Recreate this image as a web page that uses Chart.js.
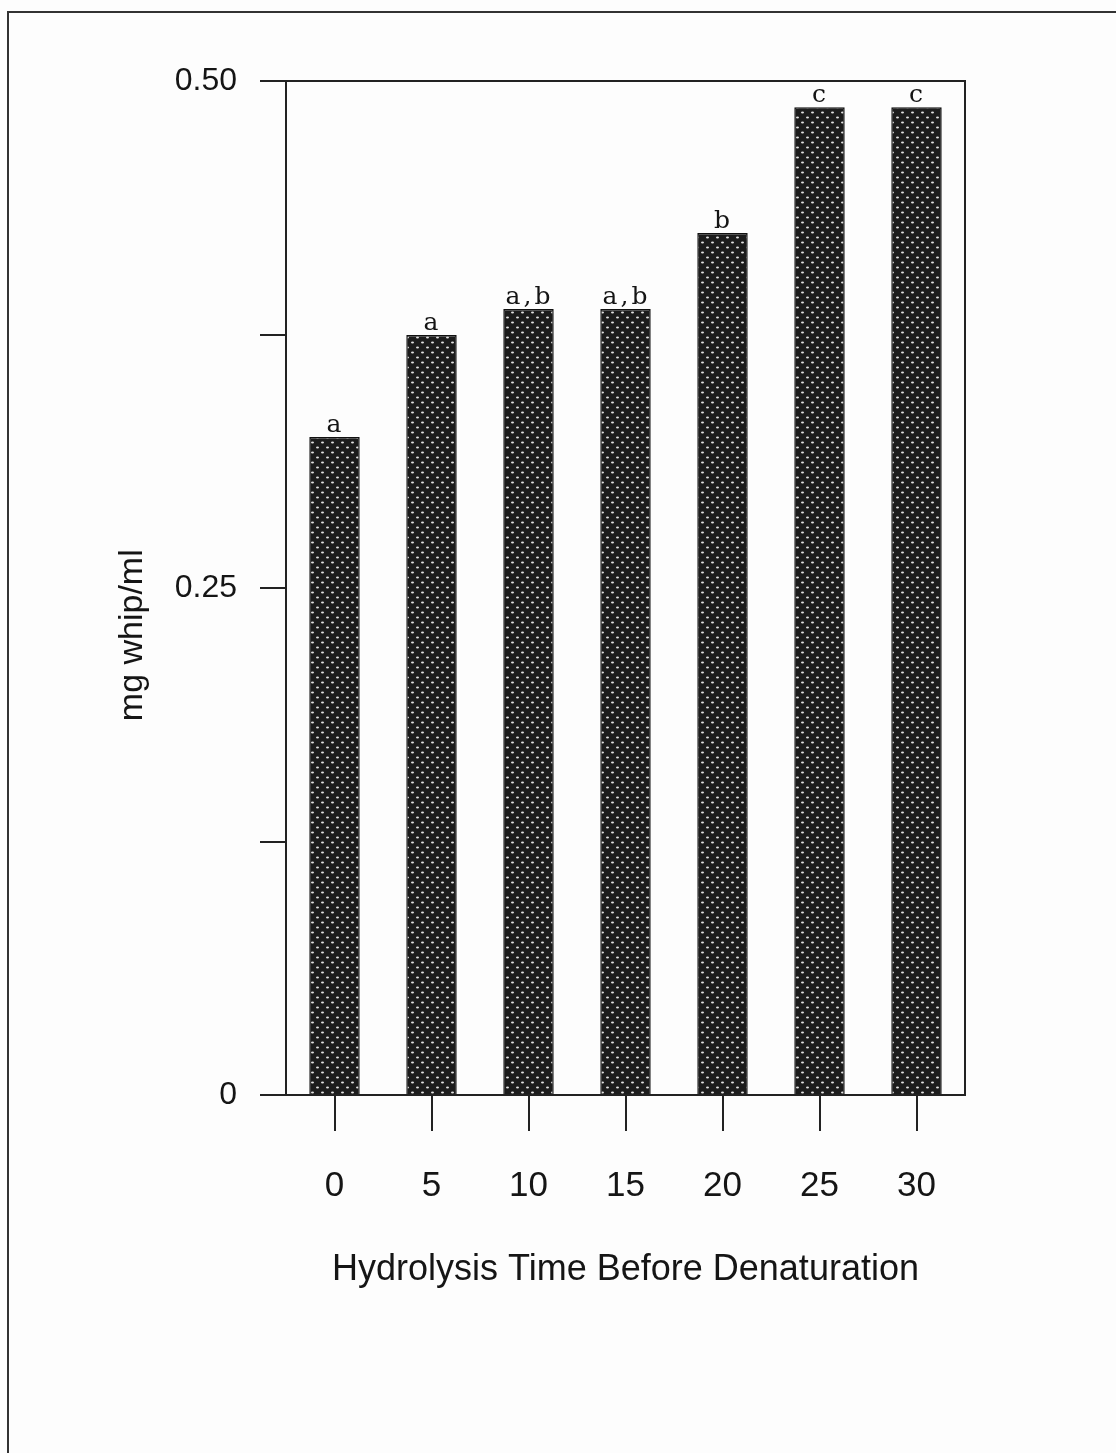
<!DOCTYPE html>
<html>
<head>
<meta charset="utf-8">
<title>Whip stability</title>
<script src="https://cdn.jsdelivr.net/npm/chart.js@4.4.1/dist/chart.umd.min.js"></script>
<style>
  html, body { margin: 0; padding: 0; background: #fdfdfd; }
  #wrap { position: relative; width: 1116px; height: 1453px; }
  #page-edge {
    position: absolute; left: 7px; top: 11px; right: 0; bottom: 0;
    border-top: 2px solid #333; border-left: 2px solid #333;
  }
</style>
</head>
<body>
<div id="wrap">
  <div id="page-edge"></div>
  <canvas id="whip-chart"></canvas>
</div>
<script>
const times = ['0', '5', '10', '15', '20', '25', '30']
const whipValues = [0.3245, 0.3748, 0.3876, 0.3876, 0.425, 0.487, 0.487]
const groupLetters = ['a', 'a', 'a,b', 'a,b', 'b', 'c', 'c']
const yTickLabels = { '0': '0', '0.25': '0.25', '0.5': '0.50' }

const sansFont = '"Liberation Sans", Arial, sans-serif'

// stippled fill like the old dot-screen print
const makeStipple = () => {
    const c = document.createElement('canvas')
    c.width = 10
    c.height = 10
    const g = c.getContext('2d')
    g.fillStyle = '#1c1c1c'
    g.fillRect(0, 0, 10, 10)
    g.fillStyle = '#e2e2e2'
    g.beginPath()
    g.ellipse(2.5, 2.5, 1.5, 1.1, 0, 0, Math.PI * 2)
    g.ellipse(7.5, 7.5, 1.5, 1.1, 0, 0, Math.PI * 2)
    g.fill()
    return g.createPattern(c, 'repeat')
}

const framePlugin = {
    id: 'frame',
    afterDraw(chart) {
        const { ctx, chartArea } = chart
        ctx.save()
        ctx.strokeStyle = '#222'
        ctx.lineWidth = 2
        ctx.beginPath()
        ctx.moveTo(chartArea.left, chartArea.top)
        ctx.lineTo(chartArea.right, chartArea.top)
        ctx.lineTo(chartArea.right, chartArea.bottom)
        ctx.stroke()
        ctx.restore()
    }
}

const letterPlugin = {
    id: 'letters',
    afterDatasetsDraw(chart) {
        const { ctx } = chart
        const meta = chart.getDatasetMeta(0)
        ctx.save()
        ctx.fillStyle = '#151515'
        ctx.font = '25px "DejaVu Serif", "Liberation Serif", serif'
        ctx.letterSpacing = '3px'
        ctx.textAlign = 'center'
        ctx.textBaseline = 'alphabetic'
        meta.data.forEach((bar, i) => {
            ctx.fillText(groupLetters[i], bar.x + 1, bar.y - 5)
        })
        ctx.restore()
    }
}

const ctx = document.getElementById('whip-chart').getContext('2d')

new Chart(ctx, {
    type: 'bar',
    data: {
        labels: times,
        datasets: [{
            label: 'mg whip/ml',
            data: whipValues,
            backgroundColor: makeStipple(),
            borderColor: '#111',
            borderWidth: 1.5,
            barPercentage: 0.52,
            categoryPercentage: 1
        }]
    },
    options: {
        responsive: true,
        maintainAspectRatio: false,
        animation: false,
        layout: {
            padding: { top: 81, right: 151, bottom: 138, left: 0 }
        },
        plugins: {
            legend: { display: false },
            tooltip: { enabled: false }
        },
        scales: {
            x: {
                offset: true,
                afterFit: scale => { scale.height = 220 },
                grid: {
                    offset: false,
                    drawOnChartArea: false,
                    drawTicks: true,
                    tickLength: 36,
                    color: '#222',
                    lineWidth: 2
                },
                border: { color: '#222', width: 2 },
                ticks: {
                    color: '#151515',
                    padding: 34,
                    font: { family: sansFont, size: 35 }
                },
                title: {
                    display: true,
                    text: 'Hydrolysis Time Before Denaturation',
                    color: '#151515',
                    padding: { top: 0, bottom: 23 },
                    font: { family: sansFont, size: 36 }
                }
            },
            y: {
                min: 0,
                max: 0.5,
                afterFit: scale => { scale.width = 286 },
                grid: {
                    drawOnChartArea: false,
                    drawTicks: true,
                    tickLength: 26,
                    color: '#222',
                    lineWidth: 2
                },
                border: { color: '#222', width: 2 },
                ticks: {
                    stepSize: 0.125,
                    color: '#151515',
                    padding: 23,
                    font: { family: sansFont, size: 32 },
                    callback: v => yTickLabels[String(v)] || ''
                },
                title: {
                    display: true,
                    // trailing spaces push the rotated title down to where the original sits
                    text: 'mg whip/ml          ',
                    color: '#151515',
                    padding: { top: 112, bottom: 0 },
                    font: { family: sansFont, size: 34 }
                }
            }
        }
    },
    plugins: [framePlugin, letterPlugin]
})
</script>
</body>
</html>
